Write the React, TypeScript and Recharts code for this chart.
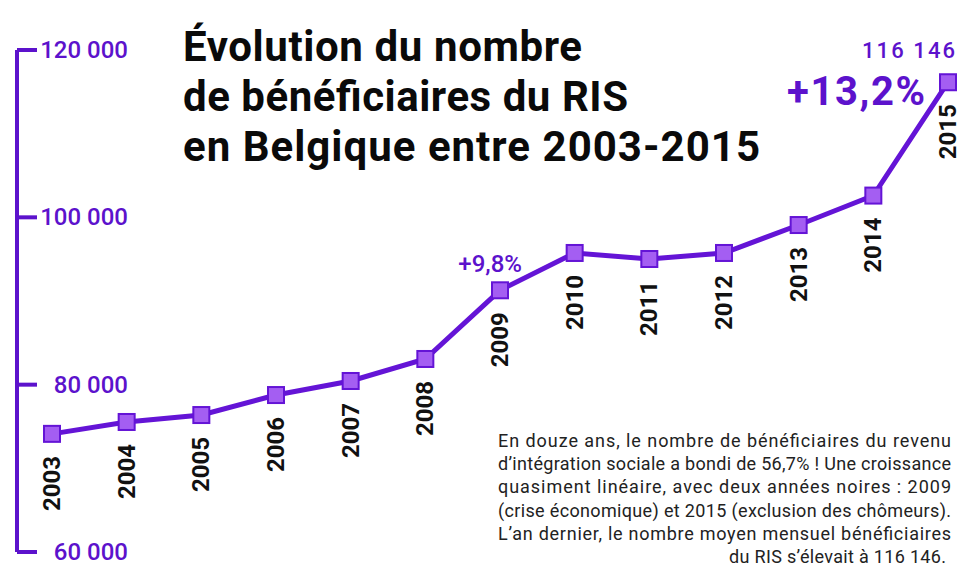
import React from 'react';
import { LineChart, Line, XAxis, YAxis, LabelList } from 'recharts';

const years = ['2003', '2004', '2005', '2006', '2007', '2008', '2009', '2010', '2011', '2012', '2013', '2014', '2015'];
const beneficiaries = [74120, 75540, 76370, 78760, 80440, 83070, 91280, 95740, 95020, 95740, 99080, 102600, 116146];
const growthNotes = ['', '', '', '', '', '', '+9,8%', '', '', '', '', '', '+13,2%'];
const yTicks = [60000, 80000, 100000, 120000];

const titleLines = ['Évolution du nombre', 'de bénéficiaires du RIS', 'en Belgique entre 2003-2015'];
const noteLines = [
  'En douze ans, le nombre de bénéficiaires du revenu',
  'd’intégration sociale a bondi de 56,7% ! Une croissance',
  'quasiment linéaire, avec deux années noires : 2009',
  '(crise économique) et 2015 (exclusion des chômeurs).',
  'L’an dernier, le nombre moyen mensuel bénéficiaires',
  'du RIS s’élevait à 116 146.',
];

const PURPLE = '#5c12cc';
const LINE = '#6414d6';
const DOT_FILL = '#a45ef2';
const FONT = 'Roboto, sans-serif';

const data = years.map((year, i) => ({ year, value: beneficiaries[i], note: growthNotes[i] }));

// 120000 -> "120 000"
const fmt = (v: number) => String(v).replace(/\B(?=(\d{3})+(?!\d))/g, ' ');

function YTick({ x, y, payload }: any) {
  return (
    <g>
      <line x1={x} x2={x + 20} y1={y} y2={y} stroke={PURPLE} strokeWidth={4} />
      <text x={x + 111} y={y} textAnchor="end" dominantBaseline="central" fill={PURPLE} fontSize={24} fontWeight={500} fontFamily={FONT}>
        {fmt(payload.value)}
      </text>
    </g>
  );
}

function SquareDot({ cx, cy, index }: any) {
  return <rect key={index} x={cx - 8} y={cy - 8} width={16} height={16} fill={DOT_FILL} stroke={LINE} strokeWidth={2} />;
}

function YearLabel({ x, y, value }: any) {
  return (
    <text transform={`translate(${x},${y + 22}) rotate(-90)`} textAnchor="end" dominantBaseline="central" fontSize={24} fontWeight={700} fill="#111" fontFamily={FONT}>
      {value}
    </text>
  );
}

function NoteLabel({ x, y, value, index }: any) {
  if (!value) return null;
  const last = index === years.length - 1;
  if (last) {
    return (
      <g>
        <text x={x + 7} y={y - 24} textAnchor="end" fill={PURPLE} fontSize={22} fontWeight={500} fontFamily={FONT} textLength={93}>
          {fmt(beneficiaries[index])}
        </text>
        <text x={x - 23} y={y + 23} textAnchor="end" fill={PURPLE} fontSize={40} fontWeight={700} fontFamily={FONT} textLength={138}>
          {value}
        </text>
      </g>
    );
  }
  return (
    <text x={x + 22} y={y - 18} textAnchor="end" fill={PURPLE} fontSize={24} fontWeight={500} fontFamily={FONT}>
      {value}
    </text>
  );
}

export default function App() {
  return (
    <div style={{ position: 'absolute', left: 0, top: 0, width: 959, height: 564, background: '#fff', overflow: 'hidden' }}>
      <LineChart width={959} height={564} data={data} margin={{ top: 50, right: 0, bottom: 12, left: 0 }}>
        <XAxis dataKey="year" hide padding={{ left: 35, right: 11 }} />
        <YAxis
          domain={[60000, 120000]}
          ticks={yTicks}
          width={17}
          tickSize={0}
          tickMargin={0}
          tickLine={false}
          axisLine={{ stroke: PURPLE, strokeWidth: 4 }}
          tick={<YTick />}
          interval={0}
        />
        <Line
          type="linear"
          dataKey="value"
          stroke={LINE}
          strokeWidth={5}
          dot={<SquareDot />}
          activeDot={false}
          isAnimationActive={false}
        >
          <LabelList dataKey="year" content={<YearLabel />} />
          <LabelList dataKey="note" content={<NoteLabel />} />
        </Line>
      </LineChart>
      <svg width={959} height={564} style={{ position: 'absolute', left: 0, top: 0, pointerEvents: 'none' }}>
        {titleLines.map((t, i) => (
          <text key={t} x={183} y={61 + i * 50} fontSize={42} fontWeight={700} fill="#0a0a0a" fontFamily={FONT} textLength={[399, 445, 577][i]}>
            {t}
          </text>
        ))}
        {noteLines.map((t, i) => {
          const last = i === noteLines.length - 1;
          return (
            <text
              key={t}
              x={last ? 946 : 498}
              y={447 + i * 23.2}
              textAnchor={last ? 'end' : 'start'}
              fontSize={18}
              fill="#222"
              fontFamily={FONT}
              textLength={last ? 217 : 453}
            >
              {t}
            </text>
          );
        })}
      </svg>
    </div>
  );
}
